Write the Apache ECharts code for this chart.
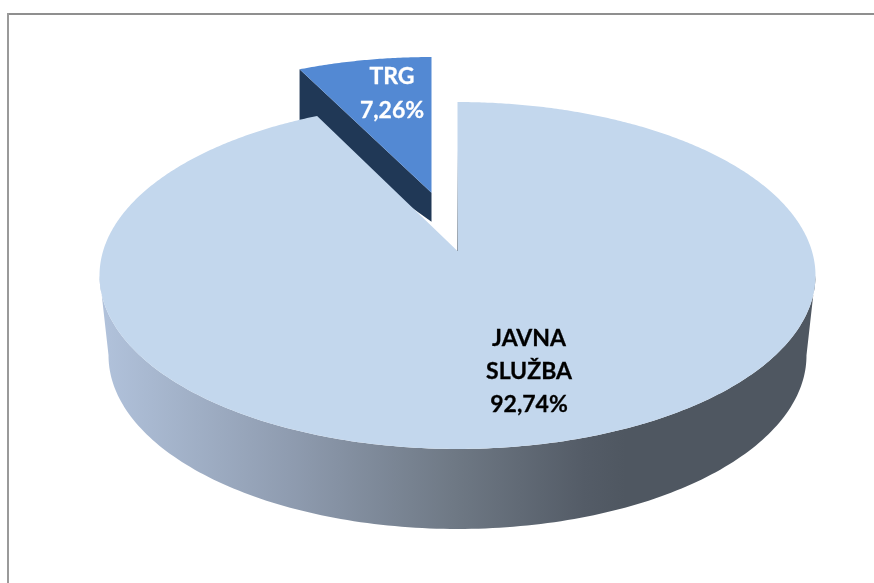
<!DOCTYPE html>
<html>
<head>
<meta charset="utf-8">
<style>html,body{margin:0;padding:0;background:#fff}#c{width:874px;height:583px}</style>
<script src="https://cdn.jsdelivr.net/npm/echarts@6/dist/echarts.min.js"></script>
</head>
<body>
<div id="c"></div>
<script>
const categories = ['TRG', 'JAVNA SLUŽBA'];
const shares = [7.26, 92.74];

const chart = echarts.init(document.getElementById('c'), null, {renderer: 'canvas'});

/* Projection of the tilted disc onto the screen */
const CX = 457.5, CY = 251, A = 354.4, B = 170, P = -0.1412;
const DEPTH_RX = 349 / 358, DEPTH_RY = 1, ELL_CY = 275, FLOOR_CY = 355;
const EXPLODE_X = -26, EXPLODE_Y = -0.36;
const TOP_MAIN = '#c3d7ed', TOP_TRG = '#5389d3', CUT_TRG = '#203856';
const LABEL_FONT = 'bold 23px Lato';

function project(deg, r, oy) {
  const t = deg * Math.PI / 180;
  const x = r * Math.sin(t), y = -r * Math.cos(t) + (oy || 0);
  const w = 1 + P * y;
  return [CX + A * x / w, CY + B * y / w];
}
function floorPoint(p) {
  return [CX + (p[0] - CX) * DEPTH_RX, FLOOR_CY + (p[1] - ELL_CY) * DEPTH_RY];
}
function pct(v) { return v.toFixed(2).replace('.', ',') + '%'; }

function renderItem(params, api) {
  const value = api.value(0);
  const total = shares.reduce((a, b) => a + b, 0);
  const sweep = value / total * 360;
  const name = categories[params.dataIndex];

  if (params.dataIndex === 0) {
    /* exploded small wedge: runs counter-clockwise from twelve o'clock */
    const sh = p => [p[0] + EXPLODE_X, p[1]];
    const apex = sh(project(0, 0, EXPLODE_Y));
    const rim = [];
    for (let d = 0; d <= sweep; d += 0.5) {
      const t = -d * Math.PI / 180;
      const x = Math.sin(t), y = -Math.cos(t) + EXPLODE_Y, w = 1 + P * y;
      rim.push([CX + A * x / w + EXPLODE_X, CY + B * y / w]);
    }
    const corner = rim[rim.length - 1];
    return {
      type: 'group',
      children: [
        {type: 'polygon', shape: {points: [corner, apex, [apex[0], apex[1] + 29], [corner[0], corner[1] + 58]]},
          style: {fill: CUT_TRG}},
        {type: 'polygon', shape: {points: [apex].concat(rim)}, style: {fill: TOP_TRG}},
        {type: 'text', x: 392, y: 93.5,
          style: {text: name + '\n' + pct(value), fill: '#ffffff', stroke: '#ffffff', lineWidth: 0.3, font: LABEL_FONT, lineHeight: 33.5,
            align: 'center', verticalAlign: 'middle'}}
      ]
    };
  }

  /* large wedge: clockwise from twelve o'clock */
  const top = [];
  for (let d = 0; d <= sweep; d += 0.5) top.push(project(d, 1));
  const wallTop = [];
  for (let d = 98; d <= 262; d += 1) wallTop.push(project(d, 1));
  const wall = wallTop.concat(wallTop.slice().reverse().map(floorPoint));
  const wallFill = new echarts.graphic.LinearGradient(107, 0, 807, 0, [
    {offset: 0, color: '#b0c1da'},
    {offset: 0.26, color: '#8f9cb0'},
    {offset: 0.5, color: '#6e7884'},
    {offset: 0.68, color: '#545c67'},
    {offset: 0.74, color: '#4f5761'},
    {offset: 1, color: '#4f5761'}
  ], true);
  const apex = project(0, 0);
  return {
    type: 'group',
    children: [
      {type: 'polygon', shape: {points: wall}, style: {fill: wallFill}},
      {type: 'polygon', shape: {points: [apex].concat(top)}, style: {fill: TOP_MAIN}},
      {type: 'line', shape: {x1: apex[0], y1: 150, x2: apex[0], y2: apex[1]},
        style: {stroke: new echarts.graphic.LinearGradient(0, 150, 0, apex[1],
          [{offset: 0, color: 'rgba(120,130,140,0)'}, {offset: 1, color: 'rgba(120,130,140,0.75)'}], true), lineWidth: 1}},
      {type: 'text', x: 529, y: 372,
        style: {text: name.replace(' ', '\n') + '\n' + pct(value), fill: '#000000', stroke: '#000000', lineWidth: 0.3, font: LABEL_FONT, lineHeight: 33,
          align: 'center', verticalAlign: 'middle'}}
    ]
  };
}

chart.setOption({
  animation: false,
  backgroundColor: '#ffffff',
  graphic: [
    {type: 'rect', shape: {x: 7, y: 13, width: 867, height: 2}, style: {fill: '#8f8f8f'}, silent: true},
    {type: 'rect', shape: {x: 7, y: 13, width: 2, height: 570}, style: {fill: '#9a9a9a'}, silent: true}
  ],
  series: [{
    type: 'custom',
    coordinateSystem: 'none',
    renderItem: renderItem,
    data: shares.map(v => [v])
  }]
});
</script>
</body>
</html>
